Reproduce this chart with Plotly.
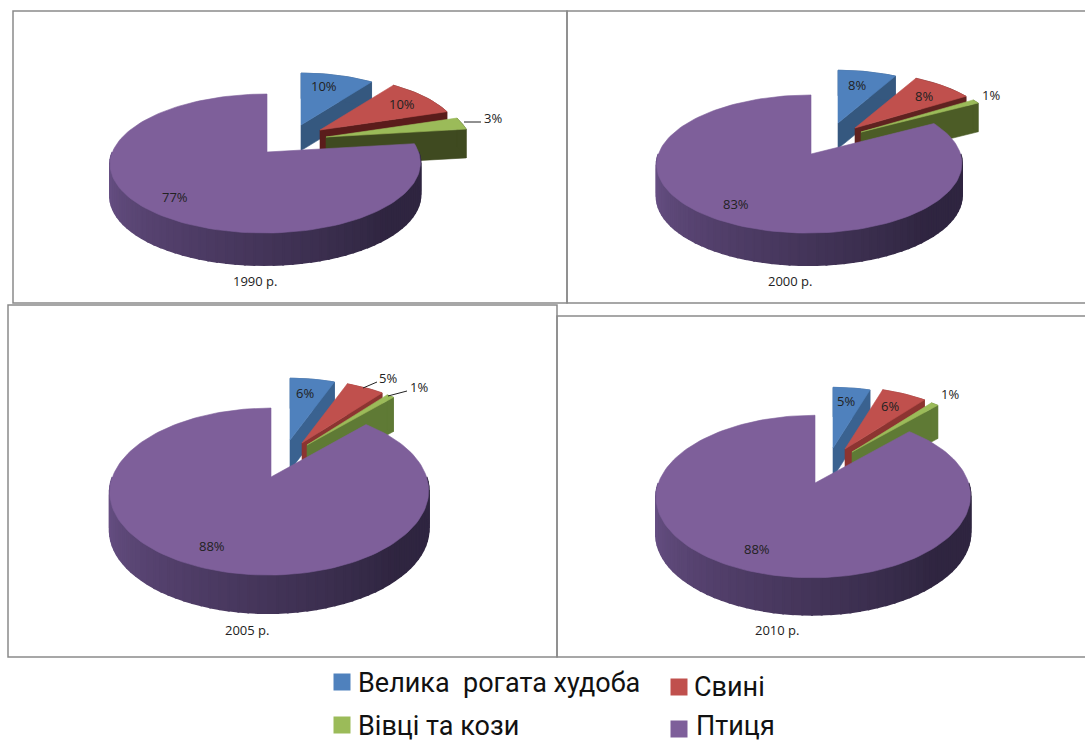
import math
import plotly.graph_objects as go

# ---- data ----
categories = ["Велика  рогата худоба", "Свині", "Вівці та кози", "Птиця"]
years = ["1990 р.", "2000 р.", "2005 р.", "2010 р."]
share_1990 = [10, 10, 3, 77]
share_2000 = [8, 8, 1, 83]
share_2005 = [6, 5, 1, 88]
share_2010 = [5, 6, 1, 88]
shares = [share_1990, share_2000, share_2005, share_2010]

# ---- styling / layout ----
W, H = 1085, 743
top_colors = ["#4f81bd", "#c0504d", "#9bbb59", "#7e5f9a"]
side_colors = [
    ["#35587f", "#5a1c1b", "#3f4a20"],
    ["#35587f", "#5f2220", "#4c5c26"],
    ["#3a6290", "#8c3431", "#5f7a35"],
    ["#3a6290", "#8c3431", "#5f7a35"],
]
# apex x, apex y, half width, perspective k, vertical scale a, rim depth
pies = [
    (267, 152, 153, 0.1656, 67.6, 32),
    (811, 154, 151, 0.145, 67.6, 32),
    (271, 477, 157, 0.174, 81, 38),
    (815, 483, 155, 0.166, 79, 37),
]
SHEAR = 1.5
# pixel shift of the three pulled-out slices
shifts = [
    [(34, -27), (53, -22), (59, -15)],
    [(27, -31), (44, -26), (50, -22)],
    [(19, -37), (31, -34), (36, -32)],
    [(18, -35), (30, -34), (37, -31)],
]
# pulled-out slices sit further back, so they draw a little smaller
slice_radius = [
    [0.88, 0.92, 0.95],
    [0.88, 0.94, 0.95],
    [0.88, 0.90, 0.90],
    [0.88, 0.90, 0.90],
]
slice_depth = [0.8, 0.9, 0.9]
label_pos = [
    [(324, 86), (402, 104), (493, 118), (175, 197)],
    [(857, 85), (924, 96), (991, 95), (736, 204)],
    [(305, 393), (388, 378), (419, 387), (212, 546)],
    [(846, 401), (890, 406), (950, 394), (757, 549)],
]
year_pos = [(255, 281), (790, 281), (247, 630), (777, 630)]
boxes = [(13, 11, 567, 303), (567, 11, 1090, 303), (8, 305, 557, 657), (557, 316, 1090, 657)]
leaders = [[(464, 122, 481, 122)], [],
           [(363, 388, 377, 382), (388, 396, 407, 391)], []]
FONT = "Open Sans"
LEGEND_FONT = "Roboto"

fig = go.Figure()


def poly(pts, color, lw=0.6):
    fig.add_trace(go.Scatter(
        x=[p[0] for p in pts] + [pts[0][0]], y=[p[1] for p in pts] + [pts[0][1]],
        mode="lines", fill="toself", fillcolor=color,
        line=dict(color=color, width=lw), hoverinfo="skip", showlegend=False))


def proj(pie, theta, r=1.0):
    x0, y0, b, k, a, _ = pie
    t = math.radians(theta)
    u, v = r * math.sin(t), r * math.cos(t)
    s = 1 / (1 + k * v)
    return x0 + b * u * s - SHEAR * (r - v), y0 - a * v * s, s


def arc(pie, t0, t1, dx=0, dy=0, r=1.0):
    n = max(3, int(abs(t1 - t0) / 2))
    out = []
    for i in range(n + 1):
        x, y, s = proj(pie, t0 + (t1 - t0) * i / n, r)
        out.append((x + dx, y + dy, s))
    return out


def mix(c0, c1, f):
    return "#%02x%02x%02x" % tuple(round(c0[i] + (c1[i] - c0[i]) * f) for i in range(3))


for pi, (vals, pie) in enumerate(zip(shares, pies)):
    depth = pie[5]
    angle = 0.0
    for si, val in enumerate(vals):
        start, end = angle, angle + val * 3.6
        angle = end
        if si < 3:
            dx, dy = shifts[pi][si]
            rim = arc(pie, start, end, dx, dy, slice_radius[pi][si])
            ax, ay = pie[0] + dx, pie[1] + dy
            d = depth * slice_depth[si]
            ex, ey, es = rim[-1]
            poly([(ax, ay), (ex, ey), (ex, ey + d), (ax, ay + d)], side_colors[pi][si])
            poly([(p[0], p[1]) for p in rim] + [(p[0], p[1] + d) for p in reversed(rim)],
                 side_colors[pi][si])
            poly([(ax, ay)] + [(p[0], p[1]) for p in rim], top_colors[si])
        else:
            # gradient on the visible rim, left (light) to right (dark)
            seg = 3
            th = 270.0
            while th > 90.0:
                t2 = max(90.0, th - seg)
                part = arc(pie, th, t2)
                f = (270.0 - th) / 180.0
                col = mix((0x6c, 0x53, 0x8a), (0x2f, 0x25, 0x40), min(1.0, f * 1.35))
                poly([(p[0], p[1]) for p in part] + [(p[0], p[1] + depth) for p in reversed(part)], col, 2)
                th = t2
            rim = arc(pie, start, end)
            poly([(pie[0], pie[1])] + [(p[0], p[1]) for p in rim], top_colors[si])

annotations = []
for pi, vals in enumerate(shares):
    for si, val in enumerate(vals):
        x, y = label_pos[pi][si]
        annotations.append(dict(x=x, y=y, text=f"{val}%", showarrow=False,
                                font=dict(family=FONT, size=13, color="#222")))
    x, y = year_pos[pi]
    annotations.append(dict(x=x, y=y, text=years[pi], showarrow=False,
                            font=dict(family=FONT, size=13, color="#222")))

# legend
legend_sq = [(342, 682), (679, 687), (342, 725), (679, 729)]
legend_txt = [(356, 683), (692, 687), (356, 726), (694, 726)]
legend_order = [0, 1, 2, 3]
for i in legend_order:
    fig.add_trace(go.Scatter(x=[legend_sq[i][0]], y=[legend_sq[i][1]], mode="markers", name=categories[i],
                             marker=dict(symbol="square", size=17, color=top_colors[i]),
                             hoverinfo="name", showlegend=False))
    annotations.append(dict(x=legend_txt[i][0], y=legend_txt[i][1], text=categories[i], showarrow=False,
                            xanchor="left", font=dict(family=LEGEND_FONT, size=27, color="#111")))

shapes = [dict(type="rect", x0=b[0], y0=b[1], x1=b[2], y1=b[3], line=dict(color="#8a8a8a", width=1.5)) for b in boxes]
for group in leaders:
    for (x0, y0, x1, y1) in group:
        shapes.append(dict(type="line", x0=x0, y0=y0, x1=x1, y1=y1, line=dict(color="#222", width=1)))

fig.update_layout(
    width=W, height=H, margin=dict(l=0, r=0, t=0, b=0), autosize=False,
    paper_bgcolor="white", plot_bgcolor="white", showlegend=False,
    xaxis=dict(range=[0, W], visible=False, fixedrange=True),
    yaxis=dict(range=[H, 0], visible=False, fixedrange=True),
    annotations=annotations, shapes=shapes)
fig.write_html("out.html", config={"displayModeBar": False},
               post_script="document.body.style.margin='0';document.body.style.overflow='hidden';")
